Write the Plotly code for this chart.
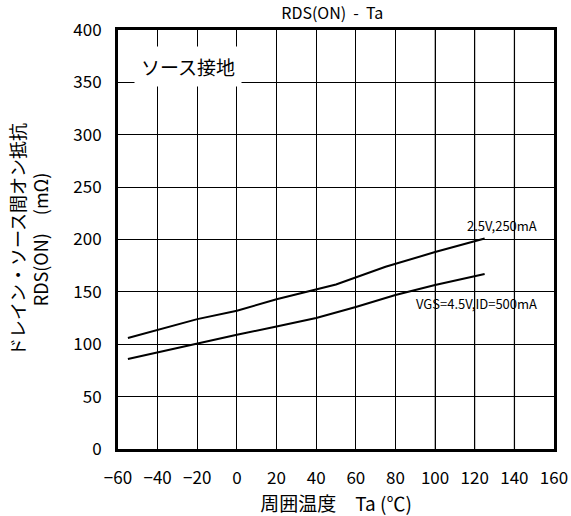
import plotly.graph_objects as go

# data
temp_a = [-55, -20, 0, 20, 50, 75, 100, 125]
rds_25v = [106, 124, 132, 143, 157, 174, 188, 201]
temp_b = [-55, -20, 0, 20, 40, 60, 80, 100, 125]
rds_45v = [86, 101, 109, 117, 125, 135.5, 147, 156.5, 167]
x_ticks = [-60, -40, -20, 0, 20, 40, 60, 80, 100, 120, 140, 160]
y_ticks = [0, 50, 100, 150, 200, 250, 300, 350, 400]
gray_grid_x = [100, 120, 140]

FONT = "Noto Sans CJK JP"

fig = go.Figure()
fig.add_trace(go.Scatter(x=temp_a, y=rds_25v, mode="lines",
                         line=dict(color="black", width=2), showlegend=False))
fig.add_trace(go.Scatter(x=temp_b, y=rds_45v, mode="lines",
                         line=dict(color="black", width=2), showlegend=False))

for gx in gray_grid_x:
    fig.add_shape(type="line", x0=gx, x1=gx, y0=0, y1=400, xref="x", yref="y",
                  line=dict(color="#888888", width=1.5), layer="below")

fig.add_annotation(x=134, y=213, text="2.5V,250mA", showarrow=False,
                   font=dict(family=FONT, size=13, color="black"))
fig.add_annotation(x=121, y=139, text="VGS=4.5V,ID=500mA", showarrow=False,
                   font=dict(family=FONT, size=13, color="black"))
fig.add_annotation(xref="paper", yref="paper", x=0.161, y=0.912, text="ソース接地",
                   xanchor="center", yanchor="middle",
                   showarrow=False, bgcolor="white", borderpad=6,
                   font=dict(family=FONT, size=19, color="black"))

fig.update_layout(
    width=571, height=516,
    margin=dict(l=118, r=17, t=30, b=67, autoexpand=False),
    paper_bgcolor="white", plot_bgcolor="white",
    font=dict(family=FONT, color="black"),
    title=dict(text="RDS(ON)  -  Ta", x=0.582, xanchor="center", y=0.975, yanchor="middle",
               font=dict(family=FONT, size=16, color="black")),
)
fig.update_xaxes(range=[-60, 160], tickvals=x_ticks, ticks="", showgrid=True,
                 gridcolor="black", gridwidth=1, zeroline=False, automargin=False,
                 showline=True, linecolor="black", linewidth=3, mirror=True,
                 tickfont=dict(family=FONT, size=17, color="black"), ticklabelstandoff=12,
                 title=dict(text="周囲温度　Ta (℃)", font=dict(family=FONT, size=19, color="black"),
                            standoff=8))
fig.update_yaxes(range=[0, 400], tickvals=y_ticks, ticks="", showgrid=True,
                 gridcolor="black", gridwidth=1, zeroline=False, automargin=False,
                 showline=True, linecolor="black", linewidth=3, mirror=True,
                 tickfont=dict(family=FONT, size=17, color="black"), ticklabelstandoff=10,
                 title=dict(text="ドレイン・ソース間オン抵抗<br>RDS(ON)　(mΩ)",
                            font=dict(family=FONT, size=18, color="black"), standoff=20))

fig.write_html("out.html", config={"displayModeBar": False},
               post_script="document.body.style.margin='0';document.body.style.overflow='hidden';")
